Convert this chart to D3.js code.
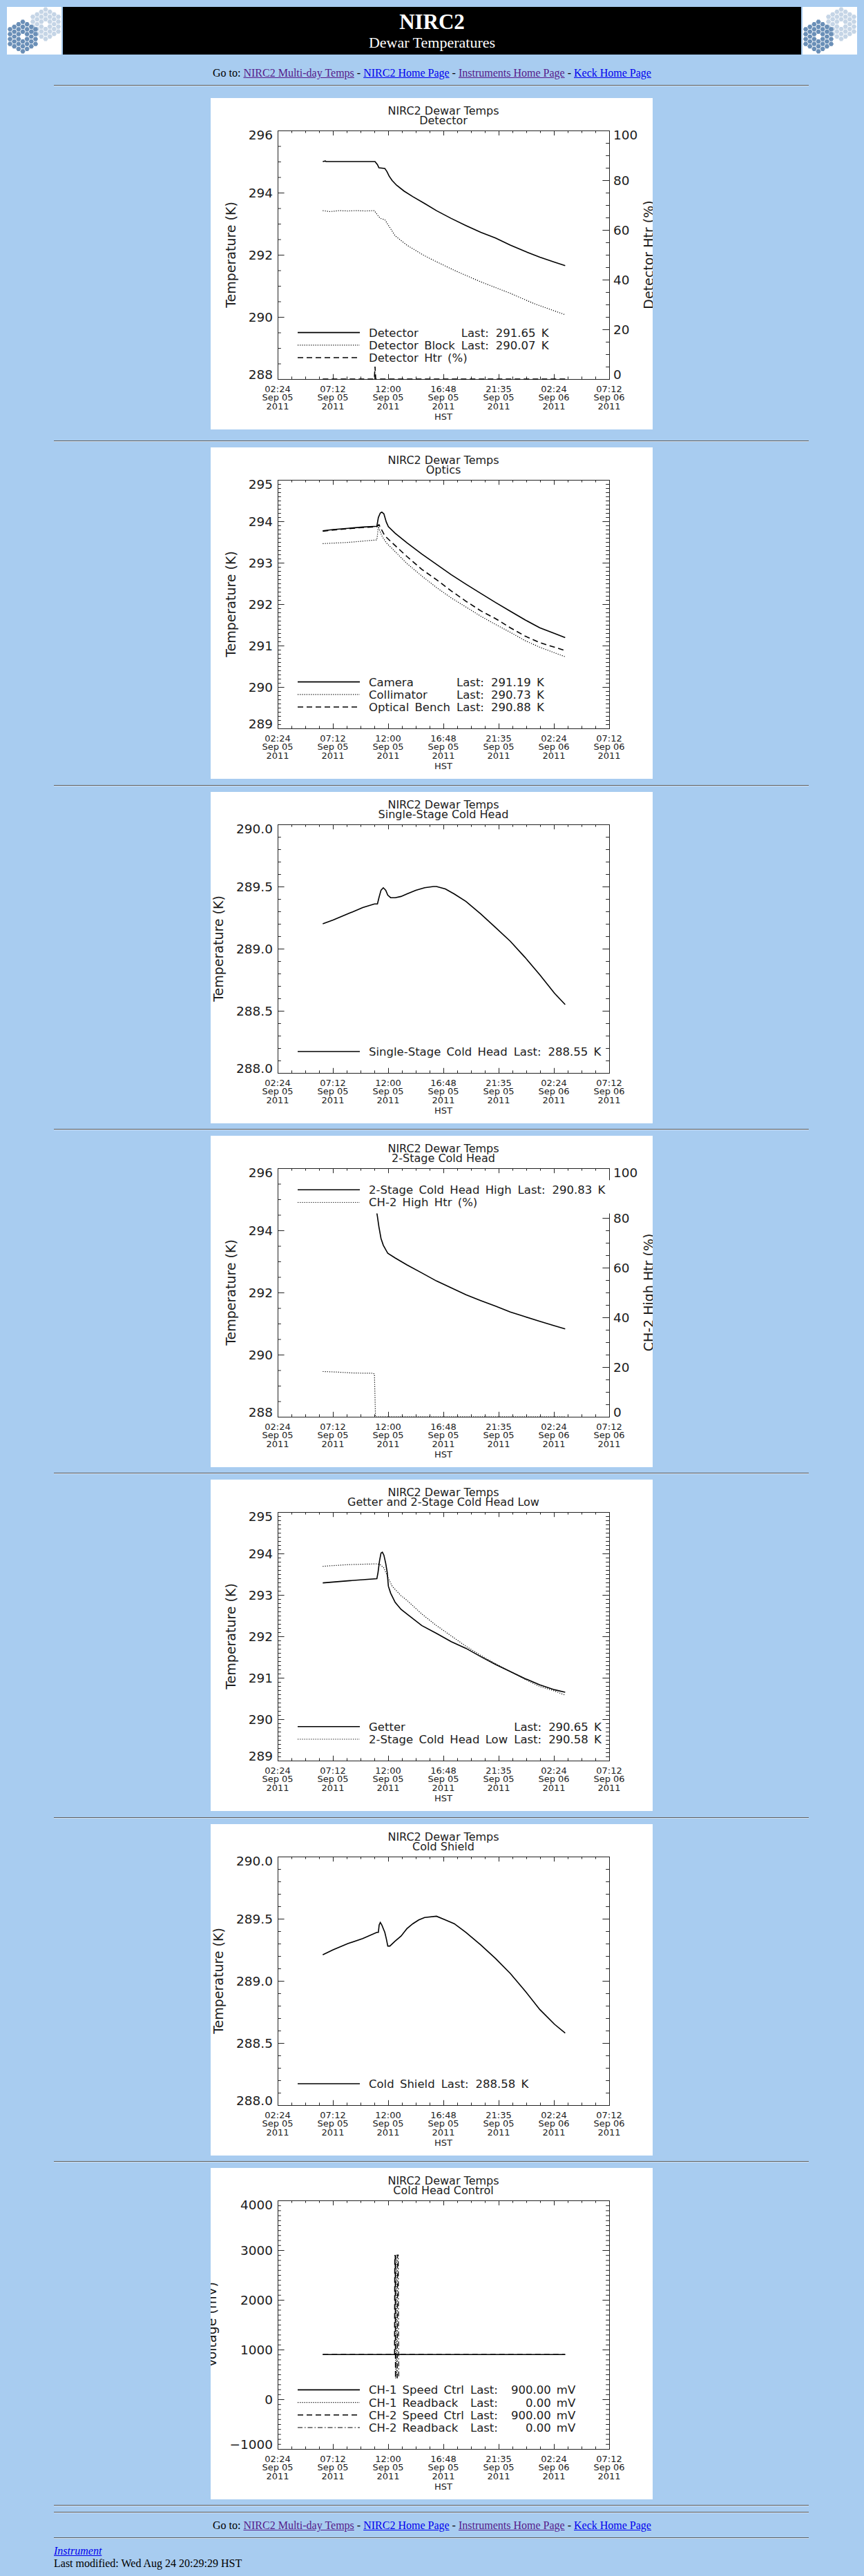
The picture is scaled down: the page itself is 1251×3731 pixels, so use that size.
<!DOCTYPE html>
<html>
<head>
<meta charset="utf-8">
<title>NIRC2 Dewar Temperatures</title>
<script src="https://cdn.jsdelivr.net/npm/d3@7"></script>
<style>
  body { margin: 0; background: #a8ccf0; font-family: "Liberation Serif", "Times New Roman", serif; font-size: 16px; color: #000; }
  #page { position: relative; width: 1251px; height: 3731px; overflow: hidden; }
  .abs { position: absolute; }
  .rule { position: absolute; left: 78px; width: 1093px; height: 0; border-top: 1px solid #5e5e5e; border-bottom: 1px solid #d2e1f1; }
  .line { position: absolute; white-space: nowrap; line-height: 16px; }
  .nav { left: 0; width: 1251px; text-align: center; }
  a { color: #0000ee; }
  a.seen { color: #551a8b; }
  svg.plot { position: absolute; left: 305px; }
  svg.plot text { font-family: "DejaVu Sans", sans-serif; fill: #1c1c1c; }
</style>
</head>
<body>
<div id="page"></div>
<script>
// ---- axis labels shared by every plot (hours counted from Sep 05 00:00 HST)
const timeTicks = [2.4, 7.2, 12.0, 16.8, 21.6, 26.4, 31.2]
const tickTimes = ["02:24", "07:12", "12:00", "16:48", "21:35", "02:24", "07:12"]
const tickDates = ["Sep 05", "Sep 05", "Sep 05", "Sep 05", "Sep 05", "Sep 06", "Sep 06"]
const tickYears = ["2011", "2011", "2011", "2011", "2011", "2011", "2011"]

// ---- Detector
const detectorT = [[6.32,295.0],[6.55,295.02],[6.6,295.0],[10.86,295.0],[11.07,294.9],[11.2,294.8],[11.71,294.78],[11.89,294.68],[12.09,294.53],[12.35,294.39],[12.73,294.24],[13.38,294.05],[14.15,293.87],[15.17,293.65],[16.2,293.42],[17.48,293.17],[18.76,292.94],[20.05,292.72],[21.33,292.54],[22.61,292.31],[23.89,292.11],[25.18,291.92],[26.46,291.76],[27.38,291.65]]
const detectorBlockT = [[6.32,293.42],[6.97,293.39],[7.73,293.42],[8.5,293.41],[9.27,293.42],[10.04,293.41],[10.81,293.42],[11.07,293.28],[11.32,293.17],[11.71,293.13],[12.09,292.91],[12.61,292.61],[13.63,292.31],[14.92,292.02],[15.68,291.87],[17.74,291.5],[20.04,291.13],[22.61,290.76],[24.66,290.43],[27.38,290.07]]
const detectorHtr = [[6.32,0],[10.8,0],[10.86,5],[10.92,0],[27.38,0]]

// ---- Optics
const cameraT = [[6.32,293.77],[7.22,293.8],[8.5,293.83],[9.79,293.86],[11.02,293.88],[11.15,294.09],[11.32,294.2],[11.45,294.22],[11.63,294.18],[11.84,293.98],[12.02,293.87],[12.61,293.71],[13.63,293.48],[14.92,293.21],[16.2,292.96],[17.48,292.71],[18.76,292.48],[20.04,292.26],[21.33,292.04],[22.61,291.83],[23.89,291.62],[25.17,291.43],[26.46,291.29],[27.38,291.19]]
const collimatorT = [[6.32,293.46],[8.5,293.49],[11.02,293.55],[11.15,293.87],[11.45,293.65],[11.84,293.48],[12.35,293.34],[13.63,292.98],[14.92,292.68],[16.2,292.4],[17.48,292.15],[18.76,291.93],[20.04,291.71],[21.33,291.51],[22.61,291.32],[23.89,291.12],[25.17,290.96],[27.38,290.73]]
const benchT = [[6.32,293.76],[7.22,293.79],[8.5,293.82],[9.79,293.85],[11.02,293.87],[11.2,293.92],[11.71,293.65],[12.35,293.48],[13.63,293.15],[14.92,292.84],[16.2,292.59],[17.48,292.32],[18.76,292.07],[20.04,291.84],[21.33,291.65],[22.61,291.43],[23.89,291.23],[25.17,291.07],[27.38,290.88]]

// ---- Single-stage cold head
const singleStageT = [[6.32,289.2],[7.22,289.23],[8.5,289.28],[9.79,289.33],[10.81,289.36],[11.07,289.36],[11.2,289.41],[11.38,289.47],[11.58,289.49],[11.79,289.47],[11.97,289.43],[12.22,289.41],[12.61,289.41],[13.12,289.42],[13.63,289.44],[14.4,289.47],[15.17,289.49],[15.94,289.5],[16.2,289.5],[16.97,289.48],[17.74,289.44],[18.76,289.38],[20.04,289.28],[21.33,289.17],[22.61,289.06],[23.89,288.93],[25.17,288.79],[26.46,288.64],[27.38,288.55]]

// ---- 2-stage cold head (high)
const twoStageHighT = [[11.02,294.56],[11.07,294.44],[11.2,294.11],[11.38,293.74],[11.58,293.52],[11.97,293.26],[12.61,293.11],[13.12,293.0],[13.63,292.89],[14.92,292.63],[16.2,292.37],[17.48,292.15],[18.76,291.93],[20.04,291.74],[21.33,291.56],[22.61,291.37],[23.89,291.22],[25.17,291.07],[26.46,290.93],[27.38,290.83]]
const ch2HighHtr = [[6.32,18.2],[7.5,18.0],[9.0,17.6],[10.7,17.5],[10.81,17.1],[10.9,0],[27.38,0]]

// ---- Getter and 2-stage cold head (low)
const getterT = [[6.32,293.29],[8.5,293.34],[11.02,293.39],[11.12,293.54],[11.25,293.82],[11.38,294.01],[11.5,294.03],[11.63,293.96],[11.79,293.76],[11.92,293.54],[12.02,293.21],[12.22,293.04],[12.61,292.82],[13.12,292.65],[13.63,292.54],[14.92,292.26],[16.2,292.07],[17.48,291.87],[18.76,291.71],[20.04,291.51],[21.33,291.32],[22.61,291.15],[23.89,290.98],[25.17,290.83],[26.46,290.71],[27.38,290.65]]
const twoStageLowT = [[6.32,293.69],[8.5,293.73],[11.02,293.75],[11.32,293.73],[11.63,293.65],[11.97,293.43],[12.35,293.21],[13.12,292.98],[13.63,292.87],[14.92,292.54],[16.2,292.26],[17.48,292.01],[18.76,291.76],[20.04,291.54],[21.33,291.34],[22.61,291.15],[23.89,290.96],[25.17,290.79],[26.46,290.68],[27.38,290.58]]

// ---- Cold shield
const coldShieldT = [[6.32,289.21],[7.22,289.25],[8.5,289.3],[9.79,289.34],[11.02,289.39],[11.15,289.39],[11.22,289.45],[11.32,289.47],[11.45,289.45],[11.71,289.39],[11.84,289.34],[11.97,289.28],[12.15,289.28],[12.61,289.32],[13.12,289.36],[13.63,289.42],[14.15,289.46],[14.66,289.49],[15.17,289.51],[16.2,289.52],[16.97,289.49],[17.74,289.46],[18.76,289.39],[20.04,289.29],[21.33,289.18],[22.61,289.06],[23.89,288.92],[25.17,288.77],[26.46,288.65],[27.38,288.58]]

// ---- Cold head control (mV)
const ch1Speed = [[6.32,900],[27.38,900]]
const ch1Readback = [[12.66,420],[12.68,2900],[12.72,2900],[12.74,420]]
const ch2Speed = [[6.32,900],[12.56,900],[12.58,2900],[12.62,2880],[12.64,420],[12.66,900],[27.38,900]]
const ch2Readback = [[12.8,420],[12.82,2900],[12.88,2900],[12.92,420]]

const navLinks = [
  {text: "NIRC2 Multi-day Temps", seen: true},
  {text: "NIRC2 Home Page", seen: false},
  {text: "Instruments Home Page", seen: true},
  {text: "Keck Home Page", seen: false}
]

const charts = [
  {title: "Detector", y: {domain: [288, 296], step: 2, minor: 4, fmt: "d", label: "Temperature (K)"},
   y2: {domain: [0, 100], step: 20, minor: 4, fmt: "d", label: "Detector Htr (%)"},
   series: [
     {data: detectorT, style: "solid", name: "Detector", last: "291.65 K"},
     {data: detectorBlockT, style: "dotted", name: "Detector Block", last: "290.07 K"},
     {data: detectorHtr, style: "dashed", axis: 2, name: "Detector Htr (%)"}]},
  {title: "Optics", y: {domain: [289, 295], step: 1, minor: 10, fmt: "d", label: "Temperature (K)"},
   series: [
     {data: cameraT, style: "solid", name: "Camera", last: "291.19 K"},
     {data: collimatorT, style: "dotted", name: "Collimator", last: "290.73 K"},
     {data: benchT, style: "dashed", name: "Optical Bench", last: "290.88 K"}]},
  {title: "Single-Stage Cold Head", y: {domain: [288, 290], step: 0.5, minor: 5, fmt: ".1f", label: "Temperature (K)"},
   series: [{data: singleStageT, style: "solid", name: "Single-Stage Cold Head", last: "288.55 K"}]},
  {title: "2-Stage Cold Head", legendTop: true, y: {domain: [288, 296], step: 2, minor: 4, fmt: "d", label: "Temperature (K)"},
   y2: {domain: [0, 100], step: 20, minor: 4, fmt: "d", label: "CH-2 High Htr (%)"},
   series: [
     {data: twoStageHighT, style: "solid", name: "2-Stage Cold Head High", last: "290.83 K"},
     {data: ch2HighHtr, style: "dotted", axis: 2, name: "CH-2 High Htr (%)"}]},
  {title: "Getter and 2-Stage Cold Head Low", y: {domain: [289, 295], step: 1, minor: 10, fmt: "d", label: "Temperature (K)"},
   series: [
     {data: getterT, style: "solid", name: "Getter", last: "290.65 K"},
     {data: twoStageLowT, style: "dotted", name: "2-Stage Cold Head Low", last: "290.58 K"}]},
  {title: "Cold Shield", y: {domain: [288, 290], step: 0.5, minor: 5, fmt: ".1f", label: "Temperature (K)"},
   series: [{data: coldShieldT, style: "solid", name: "Cold Shield", last: "288.58 K"}]},
  {title: "Cold Head Control", valueGap: 19, y: {domain: [-1000, 4000], step: 1000, minor: 10, fmt: "d", label: "Voltage (mV)"},
   series: [
     {data: ch1Speed, style: "solid", name: "CH-1 Speed Ctrl", last: "900.00 mV"},
     {data: ch1Readback, style: "dotted", name: "CH-1 Readback", last: "0.00 mV"},
     {data: ch2Speed, style: "dashed", name: "CH-2 Speed Ctrl", last: "900.00 mV"},
     {data: ch2Readback, style: "dashdot", name: "CH-2 Readback", last: "0.00 mV"}]}
]

const STYLES = {
  solid:   {w: 1.6, dash: null, color: "#000"},
  dotted:  {w: 1.2, dash: "1.2,2", color: "#000"},
  dashed:  {w: 1.6, dash: "8,5", color: "#000"},
  dashdot: {w: 1.2, dash: "7,3,1.5,3", color: "#000"}
}

const M = {left: 97, right: 577, top: 47, bottom: 407}
const TICK_X = 7.2, TICK_Y = 9.6

const page = d3.select("#page")

// ---------- banner
const banner = page.append("svg").attr("class", "abs").style("left", "0px").style("top", "0px")
  .attr("width", 1251).attr("height", 90)
banner.append("rect").attr("x", 91).attr("y", 10).attr("width", 1069).attr("height", 69).attr("fill", "#000")
banner.append("text").attr("x", 625.5).attr("y", 41.5).attr("text-anchor", "middle").attr("fill", "#fff")
  .style("font-family", "Liberation Serif").style("font-weight", "bold").style("font-size", "31px").text("NIRC2")
banner.append("text").attr("x", 625.5).attr("y", 69).attr("text-anchor", "middle").attr("fill", "#fff")
  .style("font-family", "Liberation Serif").style("font-size", "22px").text("Dewar Temperatures")

function hexCluster(g, cx, cy, size, color) {
  const cells = []
  for (let q = -3; q <= 3; q++) for (let r = -3; r <= 3; r++) {
    const ring = Math.max(Math.abs(q), Math.abs(r), Math.abs(q + r))
    if (ring >= 1 && ring <= 3) cells.push([cx + 1.5 * size * q, cy + Math.sqrt(3) * size * (r + q / 2)])
  }
  const hex = d3.range(6).map(k => [0.88 * size * Math.cos(k * Math.PI / 3), 0.88 * size * Math.sin(k * Math.PI / 3)])
  g.selectAll(null).data(cells).join("path")
    .attr("d", d => "M" + hex.map(p => [d[0] + p[0], d[1] + p[1]].join(",")).join("L") + "Z")
    .attr("fill", color)
}
;[10, 1162].forEach((x0, i) => {
  const clipId = "logo" + i
  banner.append("clipPath").attr("id", clipId).append("rect").attr("width", 79).attr("height", 69)
  const g = banner.append("g").attr("transform", `translate(${x0},10)`).attr("clip-path", `url(#${clipId})`)
  g.append("rect").attr("width", 79).attr("height", 69).attr("fill", "#fff")
  hexCluster(g, 56, 25, 4.1, "#c5d5e6")
  hexCluster(g, 23, 43, 4.1, "#6a8fb7")
})

function navLine(top) {
  const d = page.append("div").attr("class", "line nav").style("top", top + "px")
  d.append("span").text("Go to: ")
  navLinks.forEach((l, i) => {
    if (i > 0) d.append("span").text(" - ")
    d.append("a").attr("href", "#").classed("seen", l.seen).text(l.text)
  })
}
function rule(top) { page.append("div").attr("class", "rule").style("top", top + "px") }

navLine(97.8)
rule(123.3)

// ---------- plots
const ticksOf = (dom, step, n) => {
  const k = Math.round((dom[1] - dom[0]) / step)
  return d3.range(k * n + 1).map(i => dom[0] + i * step / n)
}

function plotChart(cfg, top) {
  const svg = page.append("svg").attr("class", "plot").style("top", top + "px")
    .attr("width", 640).attr("height", 480)
  svg.append("rect").attr("width", 640).attr("height", 480).attr("fill", "#fff")

  const x = d3.scaleLinear().domain([timeTicks[0], timeTicks[timeTicks.length - 1]]).range([M.left, M.right])
  const y = d3.scaleLinear().domain(cfg.y.domain).range([M.bottom, M.top])
  const y2 = cfg.y2 ? d3.scaleLinear().domain(cfg.y2.domain).range([M.bottom, M.top]) : null

  // ticks (all pointing inward, IDL style)
  const axes = svg.append("g").style("color", "#222")
  const xMinor = ticksOf(x.domain(), 4.8, 4)
  const yMajor = ticksOf(y.domain(), cfg.y.step, 1), yMinor = ticksOf(y.domain(), cfg.y.step, cfg.y.minor)
  const ry = y2 || y, rc = cfg.y2 || cfg.y
  const ryMajor = ticksOf(ry.domain(), rc.step, 1), ryMinor = ticksOf(ry.domain(), rc.step, rc.minor)

  axes.append("g").attr("transform", `translate(0,${M.bottom})`).call(d3.axisBottom(x).tickValues(xMinor).tickSize(-TICK_X / 2).tickFormat(""))
  axes.append("g").attr("transform", `translate(0,${M.bottom})`).call(d3.axisBottom(x).tickValues(timeTicks).tickSize(-TICK_X).tickFormat(""))
  axes.append("g").attr("transform", `translate(0,${M.top})`).call(d3.axisTop(x).tickValues(xMinor).tickSize(-TICK_X / 2).tickFormat(""))
  axes.append("g").attr("transform", `translate(0,${M.top})`).call(d3.axisTop(x).tickValues(timeTicks).tickSize(-TICK_X).tickFormat(""))
  axes.append("g").attr("transform", `translate(${M.left},0)`).call(d3.axisLeft(y).tickValues(yMinor).tickSize(-TICK_Y / 2).tickFormat(""))
  axes.append("g").attr("transform", `translate(${M.left},0)`).call(d3.axisLeft(y).tickValues(yMajor).tickSize(-TICK_Y).tickFormat(""))
  axes.append("g").attr("transform", `translate(${M.right},0)`).call(d3.axisRight(ry).tickValues(ryMinor).tickSize(-TICK_Y / 2).tickFormat(""))
  axes.append("g").attr("transform", `translate(${M.right},0)`).call(d3.axisRight(ry).tickValues(ryMajor).tickSize(-TICK_Y).tickFormat(""))
  axes.selectAll(".domain").remove()
  axes.append("rect").attr("x", M.left + 0.5).attr("y", M.top + 0.5).attr("width", M.right - M.left).attr("height", M.bottom - M.top)
    .attr("fill", "none").attr("stroke", "#222")

  // titles
  svg.append("text").attr("x", (M.left + M.right) / 2).attr("y", 23.7).attr("text-anchor", "middle").attr("font-size", 16).text("NIRC2 Dewar Temps")
  svg.append("text").attr("x", (M.left + M.right) / 2).attr("y", 38.2).attr("text-anchor", "middle").attr("font-size", 16).text(cfg.title)

  // x tick labels
  const xl = svg.append("g").attr("font-size", 13).attr("text-anchor", "middle")
  ;[tickTimes, tickDates, tickYears].forEach((labels, j) => {
    xl.append("g").selectAll("text").data(timeTicks).join("text")
      .attr("x", d => x(d)).attr("y", 426.3 + j * 12.1).text((d, i) => labels[i])
  })
  xl.append("text").attr("x", (M.left + M.right) / 2).attr("y", 466.3).text("HST")

  // y tick labels (end labels kept inside the axis span)
  const clampY = v => Math.max(M.top + 6.8, Math.min(M.bottom - 6.8, v))
  const yl = svg.append("g").attr("font-size", 18.5).attr("text-anchor", "end")
  const lt = yl.selectAll("text").data(yMajor).join("text")
    .attr("x", M.left - 7).attr("y", d => clampY(y(d))).attr("dy", "0.36em").text(d3.format(cfg.y.fmt))
  let leftEdge = M.left - 7
  lt.each(function () { leftEdge = Math.min(leftEdge, M.left - 7 - this.getComputedTextLength()) })
  svg.append("text").attr("font-size", 19).attr("text-anchor", "middle")
    .attr("transform", `translate(${leftEdge - 19},${(M.top + M.bottom) / 2}) rotate(-90)`).text(cfg.y.label)

  if (y2) {
    const yr = svg.append("g").attr("font-size", 18.5).attr("text-anchor", "start")
    const rt = yr.selectAll("text").data(ryMajor).join("text")
      .attr("x", M.right + 6).attr("y", d => clampY(y2(d))).attr("dy", "0.36em").text(d3.format(cfg.y2.fmt))
    let rightEdge = M.right + 6
    rt.each(function () { rightEdge = Math.max(rightEdge, M.right + 6 + this.getComputedTextLength()) })
    svg.append("text").attr("font-size", 19).attr("text-anchor", "middle")
      .attr("transform", `translate(${rightEdge + 23},${(M.top + M.bottom) / 2}) rotate(-90)`).text(cfg.y2.label)
  }

  // data lines
  const lines = svg.append("g").attr("fill", "none")
  cfg.series.forEach(s => {
    const st = STYLES[s.style], ys = s.axis === 2 ? y2 : y
    lines.append("path").datum(s.data)
      .attr("d", d3.line().x(d => x(d[0])).y(d => ys(d[1])))
      .attr("stroke", st.color).attr("stroke-width", st.w).attr("stroke-dasharray", st.dash)
  })

  // legend
  const n = cfg.series.length, gap = 18.2
  const rowY = i => cfg.legendTop ? 78.3 + i * gap : 376 - (n - 1 - i) * gap
  const lg = svg.append("g").attr("font-size", 16.5).style("word-spacing", "3px")
  if (cfg.legendTop) {
    lg.append("rect").attr("x", 110).attr("y", rowY(0) - 14).attr("width", 472).attr("height", rowY(n - 1) - rowY(0) + 30).attr("fill", "#fff")
  }
  let nameW = 0
  cfg.series.forEach((s, i) => {
    const st = STYLES[s.style]
    lg.append("line").attr("x1", 126).attr("x2", 216).attr("y1", rowY(i)).attr("y2", rowY(i))
      .attr("stroke", st.color).attr("stroke-width", st.w).attr("stroke-dasharray", st.dash)
    const t = lg.append("text").attr("x", 229).attr("y", rowY(i)).attr("dy", "0.36em").text(s.name)
    if (s.last) nameW = Math.max(nameW, t.node().getComputedTextLength())
  })
  const lastX = 229 + nameW + 9
  const withLast = cfg.series.map((s, i) => [s, i]).filter(d => d[0].last)
  let lastW = 0, valW = 0
  const lastTexts = withLast.map(([s, i]) => {
    const t = lg.append("text").attr("x", lastX).attr("y", rowY(i)).attr("dy", "0.36em").text("Last:")
    lastW = Math.max(lastW, t.node().getComputedTextLength())
    const v = lg.append("text").attr("y", rowY(i)).attr("dy", "0.36em").attr("text-anchor", "end").text(s.last)
    valW = Math.max(valW, v.node().getComputedTextLength())
    return v
  })
  const valEnd = lastX + lastW + (cfg.valueGap || 10) + valW
  lastTexts.forEach(v => v.attr("x", valEnd))
}

const panelTops = [141.7].concat(d3.range(6).map(i => 648.3 + i * 498.3))
charts.forEach((cfg, i) => {
  if (i > 0) rule(panelTops[i] - 10)
  plotChart(cfg, panelTops[i])
})

// ---------- footer
rule(3627.7)
rule(3637.7)
navLine(3650.2)
rule(3674.7)
const inst = page.append("div").attr("class", "line").style("left", "78px").style("top", "3686.6px")
inst.append("a").attr("href", "#").style("font-style", "italic").text("Instrument")
page.append("div").attr("class", "line").style("left", "78px").style("top", "3705.3px")
  .text("Last modified: Wed Aug 24 20:29:29 HST")
</script>
</body>
</html>
